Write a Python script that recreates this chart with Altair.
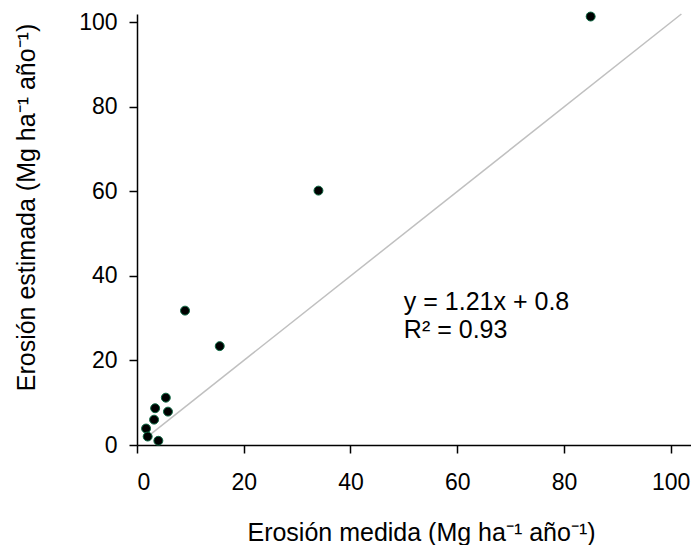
import altair as alt
import pandas as pd

# Measured vs estimated erosion (Mg ha-1 yr-1)
medida = [1.7, 2.0, 4.0, 3.2, 3.4, 5.8, 5.4, 9.0, 15.5, 34.0, 85.0]
estimada = [3.9, 2.0, 1.0, 6.0, 8.7, 7.9, 11.2, 31.8, 23.4, 60.2, 101.4]

# 1:1 reference line extent
line_x = [1.7, 102.0]

x_ticks = [0, 20, 40, 60, 80, 100]
y_ticks = [0, 20, 40, 60, 80, 100]

eq_lines = ["y = 1.21x + 0.8", "R\u00b2 = 0.93"]
eq_x = [50, 50]
eq_y = [33.8, 27.2]

FONT = "Liberation Sans"

pts = pd.DataFrame({"medida": medida, "estimada": estimada})
ln = pd.DataFrame({"medida": line_x, "estimada": line_x})
eq = pd.DataFrame({"text": eq_lines, "x": eq_x, "y": eq_y})

xscale = alt.Scale(domain=[0, 103.8], nice=False, zero=False)
yscale = alt.Scale(domain=[0, 102], nice=False, zero=False)

xaxis = alt.Axis(
    values=x_ticks,
    title="Erosión medida (Mg ha\u207b\u00b9 año\u207b\u00b9)",
    titleX=284, titleY=87, titleBaseline="middle", titleAlign="center",
    labelPadding=18,
)
yaxis = alt.Axis(
    values=y_ticks,
    title="Erosión estimada (Mg ha\u207b\u00b9 año\u207b\u00b9)",
    titleX=-111, titleY=193, titleBaseline="middle", titleAlign="center",
    titleAngle=-90,
    labelPadding=12,
)

line = alt.Chart(ln).mark_line(color="#c0c0c0", strokeWidth=1.5).encode(
    x=alt.X("medida:Q", scale=xscale, axis=xaxis),
    y=alt.Y("estimada:Q", scale=yscale, axis=yaxis),
)

points = alt.Chart(pts).mark_point(
    filled=True, fill="#000000", stroke="#0a6640", strokeWidth=1, size=80, opacity=1
).encode(
    x=alt.X("medida:Q", scale=xscale),
    y=alt.Y("estimada:Q", scale=yscale),
)

text = alt.Chart(eq).mark_text(
    align="left", baseline="middle", font=FONT, fontSize=25, color="#000000"
).encode(
    x=alt.X("x:Q", scale=xscale),
    y=alt.Y("y:Q", scale=yscale),
    text="text:N",
)

chart = (
    alt.layer(line, points, text)
    .properties(
        width=554,
        height=431,
        autosize=alt.AutoSizeParams(type="none"),
        padding={"left": 129, "top": 6, "right": 0, "bottom": 100},
    )
    .configure_view(stroke=None)
    .configure_axis(
        grid=False,
        domainColor="#000000",
        domainWidth=1.5,
        tickColor="#000000",
        tickWidth=1.5,
        tickSize=8,
        labelFont=FONT,
        labelFontSize=23,
        labelColor="#000000",
        titleFont=FONT,
        titleFontSize=25,
        titleFontWeight="normal",
        titleColor="#000000",
    )
)

chart.save("out.html", embed_options={"renderer": "svg", "actions": False})
